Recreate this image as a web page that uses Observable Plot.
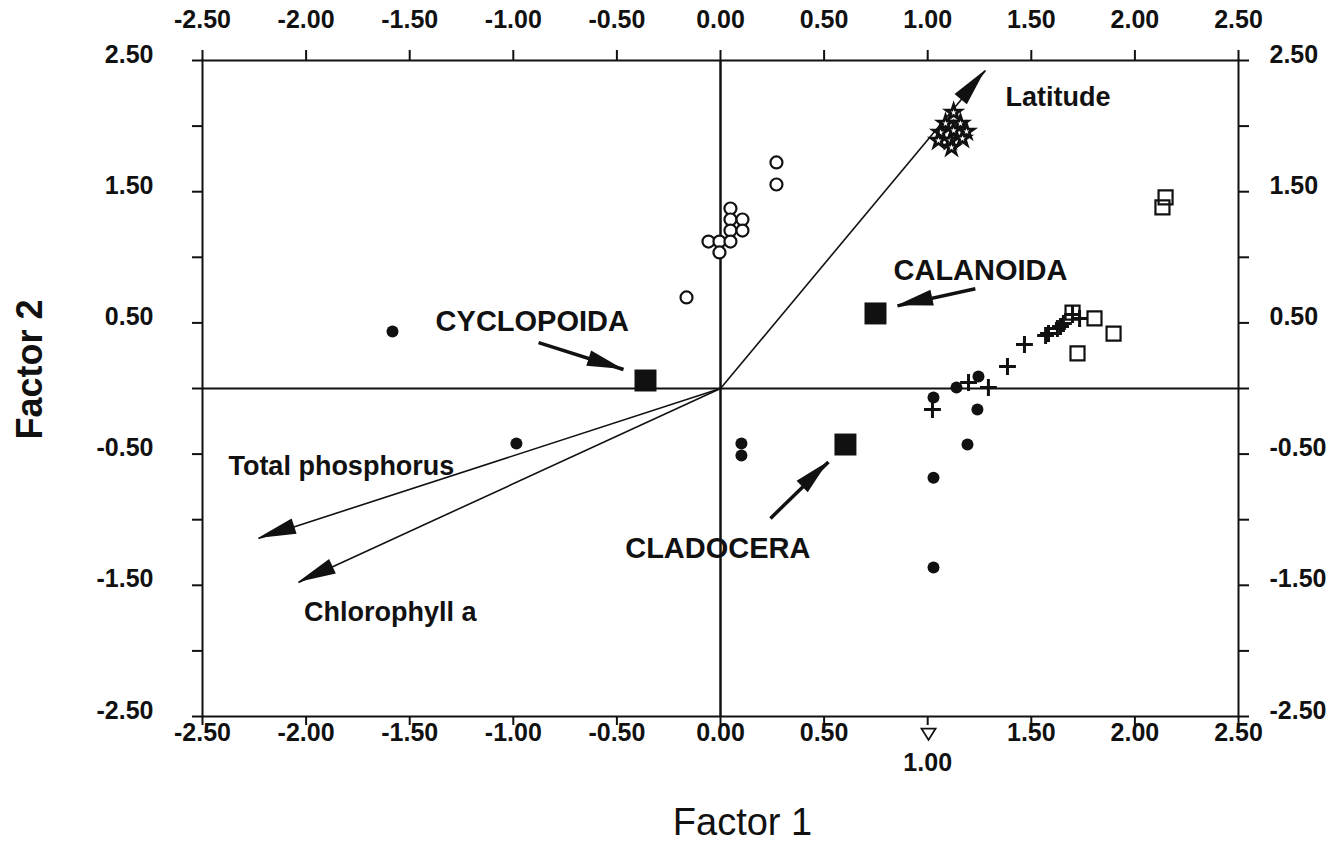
<!DOCTYPE html>
<html><head><meta charset="utf-8">
<script src="https://cdn.jsdelivr.net/npm/d3@7"></script>
<script src="https://cdn.jsdelivr.net/npm/@observablehq/plot@0.6"></script>
<style>body{margin:0;background:#fff}</style>
</head><body><div id="chart"></div>
<script>
// ---- tick values / labels ----
const xTicks = [-2.5, -2, -1.5, -1, -0.5, 0, 0.5, 1, 1.5, 2, 2.5];
const yTicks = [-2.5, -2, -1.5, -1, -0.5, 0, 0.5, 1, 1.5, 2, 2.5];
const yLabels = [2.5, 1.5, 0.5, -0.5, -1.5, -2.5];

// ---- environmental vectors ----
const vectorNames = ["Latitude", "Total phosphorus", "Chlorophyll a"];
const vectorX = [1.279, -2.23, -2.037];
const vectorY = [2.424, -1.143, -1.479];
const vectorLabelX = [1.375, -2.375, -2.01];
const vectorLabelY = [2.22, -0.59, -1.71];

// ---- taxa scores ----
const taxaNames = ["CYCLOPOIDA", "CALANOIDA", "CLADOCERA"];
const taxaX = [-0.362, 0.748, 0.603];
const taxaY = [0.061, 0.572, -0.427];
const taxaLabelX = [-1.375, 0.835, -0.46];
const taxaLabelY = [0.51, 0.90, -1.22];
const pointerFromX = [-0.878, 1.23, 0.241];
const pointerFromY = [0.35, 0.76, -0.99];
const pointerToX = [-0.468, 0.854, 0.521];
const pointerToY = [0.145, 0.63, -0.56];

// ---- site scores by group ----
const filledX = [-1.583, -0.985, 0.101, 0.101, 1.028, 1.139, 1.245, 1.240, 1.192, 1.028, 1.028];
const filledY = [0.434, -0.419, -0.419, -0.511, -0.069, 0.008, 0.091, -0.160, -0.427, -0.680, -1.364];
const crossX = [1.023, 1.197, 1.293, 1.385, 1.467, 1.569, 1.583, 1.626, 1.641, 1.655, 1.733, 1.699];
const crossY = [-0.160, 0.046, 0.008, 0.168, 0.335, 0.404, 0.419, 0.457, 0.473, 0.495, 0.534, 0.564];
const squareX = [1.699, 1.805, 1.897, 1.723, 2.148, 2.133];
const squareY = [0.579, 0.534, 0.419, 0.267, 1.456, 1.380];
const openX = [-0.164, 0.270, 0.270, 0.048, 0.048, 0.106, 0.048, 0.106, -0.058, -0.005, 0.048, -0.005];
const openY = [0.694, 1.723, 1.555, 1.372, 1.288, 1.288, 1.204, 1.204, 1.120, 1.120, 1.120, 1.037];
const starX = [1.125, 1.086, 1.158, 1.062, 1.125, 1.187, 1.052, 1.110, 1.168, 1.115];
const starY = [2.104, 2.020, 2.020, 1.951, 1.966, 1.959, 1.890, 1.890, 1.905, 1.837];
const triX = [1.004];
const triY = [-2.63];

// ---- build tables ----
const pts = (xs, ys) => xs.map((x, i) => ({x, y: ys[i]}));
const vectors = vectorNames.map((n, i) => ({name: n, x1: 0, y1: 0, x2: vectorX[i], y2: vectorY[i], lx: vectorLabelX[i], ly: vectorLabelY[i]}));
const taxa = taxaNames.map((n, i) => ({name: n, x: taxaX[i], y: taxaY[i], lx: taxaLabelX[i], ly: taxaLabelY[i]}));
const pointers = taxaNames.map((n, i) => ({x1: pointerFromX[i], y1: pointerFromY[i], x2: pointerToX[i], y2: pointerToY[i]}));

const fmt = v => v.toFixed(2);
const FONT = "'Liberation Sans', Arial, Helvetica, sans-serif";
const INK = "#111";

const downTriangle = {
  draw(context, size) {
    const s = Math.sqrt(size / Math.PI);
    context.moveTo(-s, -s * 0.7);
    context.lineTo(s, -s * 0.7);
    context.lineTo(0, s * 0.9);
    context.closePath();
  }
};

function arrowHeads(data, len, half) {
  return (index, scales) => {
    const ns = "http://www.w3.org/2000/svg";
    const g = document.createElementNS(ns, "g");
    for (const a of data) {
      const x1 = scales.x(a.x1), y1 = scales.y(a.y1), x2 = scales.x(a.x2), y2 = scales.y(a.y2);
      const dx = x2 - x1, dy = y2 - y1, L = Math.hypot(dx, dy), ux = dx / L, uy = dy / L;
      const bx = x2 - ux * len, by = y2 - uy * len;
      const poly = document.createElementNS(ns, "polygon");
      poly.setAttribute("points", `${x2},${y2} ${bx - uy * half},${by + ux * half} ${bx + uy * half},${by - ux * half}`);
      poly.setAttribute("fill", INK);
      g.appendChild(poly);
    }
    return g;
  };
}

const W = 1333, H = 843, mL = 202, mR = 95, mT = 60, mB = 127;
const PH = H - mT - mB, PW = W - mL - mR;
const tickStyle = {stroke: INK, strokeWidth: 2};
const lab = {fontFamily: FONT, fontWeight: "bold", fill: INK};

const chart = Plot.plot({
  width: W, height: H,
  marginLeft: mL, marginRight: mR, marginTop: mT, marginBottom: mB,
  inset: 0,
  style: {background: "#fff", fontFamily: FONT, color: INK, overflow: "visible"},
  x: {domain: [-2.5, 2.5], axis: null},
  y: {domain: [-2.5, 2.5], axis: null},
  marks: [
    Plot.frame({stroke: INK, strokeWidth: 2}),
    Plot.ruleX([0], {stroke: INK, strokeWidth: 2.5}),
    Plot.ruleY([0], {stroke: INK, strokeWidth: 2}),
    // ticks
    Plot.tickX(xTicks, {x: d => d, insetTop: -10, insetBottom: PH, ...tickStyle}),
    Plot.tickX(xTicks, {x: d => d, insetTop: PH, insetBottom: -9, ...tickStyle}),
    Plot.tickY(yTicks, {y: d => d, insetLeft: -10, insetRight: PW, ...tickStyle}),
    Plot.tickY(yTicks, {y: d => d, insetLeft: PW, insetRight: -11, ...tickStyle}),
    // tick labels
    Plot.text(xTicks, {x: d => d, y: 2.5, text: fmt, dy: -41, fontSize: 25, ...lab}),
    Plot.text(xTicks.filter(d => d !== 1), {x: d => d, y: -2.5, text: fmt, dy: 16, fontSize: 25, ...lab}),
    Plot.text(xTicks.filter(d => d === 1), {x: d => d, y: -2.5, text: fmt, dy: 46, fontSize: 25, ...lab}),
    Plot.text(yLabels, {x: -2.5, y: d => d, text: fmt, dx: -49, dy: -6, textAnchor: "end", fontSize: 25, ...lab}),
    Plot.text(yLabels, {x: 2.5, y: d => d, text: fmt, dx: 31, dy: -6, textAnchor: "start", fontSize: 25, ...lab}),
    // environmental vectors
    Plot.link(vectors, {x1: "x1", y1: "y1", x2: "x2", y2: "y2", stroke: INK, strokeWidth: 1.6}),
    arrowHeads(vectors, 38, 8),
    Plot.text(vectors, {x: "lx", y: "ly", text: "name", textAnchor: "start", fontSize: 27, ...lab}),
    // sites
    Plot.dot(pts(openX, openY), {x: "x", y: "y", r: 6, stroke: INK, strokeWidth: 2.2, fill: "#fff"}),
    Plot.dot(pts(starX, starY), {x: "x", y: "y", r: 4.6, symbol: "star", stroke: INK, strokeWidth: 2.8, fill: "#fff"}),
    Plot.dot(pts(filledX, filledY), {x: "x", y: "y", r: 6, fill: INK}),
    Plot.dot(pts(crossX, crossY), {x: "x", y: "y", r: 5.5, symbol: "plus", stroke: INK, strokeWidth: 3}),
    Plot.dot(pts(squareX, squareY), {x: "x", y: "y", r: 7.9, symbol: "square", stroke: INK, strokeWidth: 2.2, fill: "none"}),
    Plot.dot(pts(triX, triY), {x: "x", y: "y", r: 7, symbol: downTriangle, stroke: INK, strokeWidth: 1.8, fill: "#fff"}),
    // taxa
    Plot.dot(taxa, {x: "x", y: "y", r: 12.4, symbol: "square", fill: INK}),
    Plot.link(pointers, {x1: "x1", y1: "y1", x2: "x2", y2: "y2", stroke: INK, strokeWidth: 3.5}),
    arrowHeads(pointers, 36, 8),
    Plot.text(taxa, {x: "lx", y: "ly", text: "name", textAnchor: "start", fontSize: 29, ...lab}),
    // axis titles
    Plot.text(["Factor 1"], {frameAnchor: "bottom", text: d => d, textAnchor: "middle", lineAnchor: "middle", dx: 22, dy: 106, fontSize: 38, fontFamily: FONT, fill: INK}),
    Plot.text(["Factor 2"], {frameAnchor: "left", text: d => d, textAnchor: "middle", lineAnchor: "middle", rotate: -90, dx: -172, dy: -19, fontSize: 36, fontFamily: FONT, fontWeight: "bold", fill: INK})
  ]
});
document.getElementById("chart").appendChild(chart);
</script>
</body></html>
